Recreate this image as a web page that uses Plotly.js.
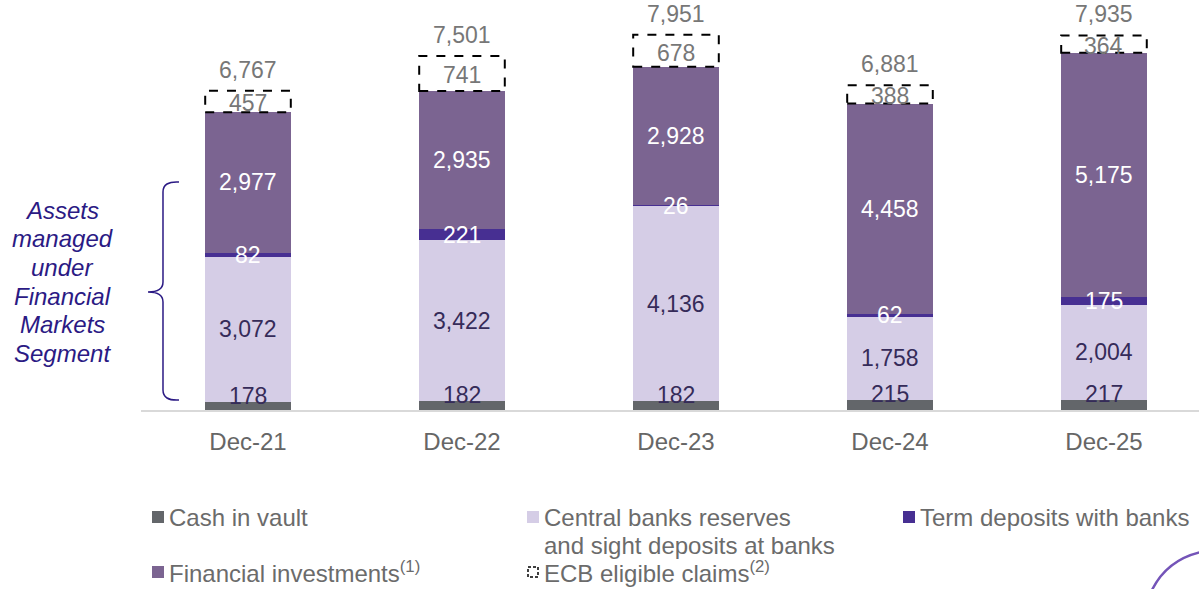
<!DOCTYPE html>
<html>
<head>
<meta charset="utf-8">
<script src="https://cdn.plot.ly/plotly-3.0.1.min.js"></script>
<style>html,body{margin:0;padding:0;background:#fff;}#chart{width:1199px;height:589px;}</style>
</head>
<body>
<div id="chart"></div>
<script>
const categories = ['Dec-21', 'Dec-22', 'Dec-23', 'Dec-24', 'Dec-25'];
const cashInVault = [178, 182, 182, 215, 217];
const centralBanks = [3072, 3422, 4136, 1758, 2004];
const termDeposits = [82, 221, 26, 62, 175];
const financialInvestments = [2977, 2935, 2928, 4458, 5175];
const ecbClaims = [457, 741, 678, 388, 364];
const totals = [6767, 7501, 7951, 6881, 7935];

const seriesNames = ['Cash in vault', 'Central banks reserves and sight deposits at banks', 'Term deposits with banks', 'Financial investments', 'ECB eligible claims'];
const legendLines = [['Cash in vault'], ['Central banks reserves', 'and sight deposits at banks'], ['Term deposits with banks'], ['Financial investments<sup>(1)</sup>'], ['ECB eligible claims<sup>(2)</sup>']];
const segmentLines = ['Assets', 'managed', 'under', 'Financial', 'Markets', 'Segment'];
const seriesColors = ['#63666a', '#d5cde6', '#472f92', '#7b6491', '#ffffff'];
const labelColors = ['#352b59', '#352b59', '#ffffff', '#ffffff', '#777777'];
const seriesValues = [cashInVault, centralBanks, termDeposits, financialInvestments, ecbClaims];

const FONT = 'Arial, "Liberation Sans", sans-serif';
const fmt = v => v.toLocaleString('en-US');

// pixel helpers for decorations outside the plot
const L = 141, W = 1058, H = 410;
const px = p => (p - L) / W;
const py = p => (H - p) / H;

const barWidth = 0.4;
const traces = seriesValues.map((vals, k) => ({
  type: 'bar',
  name: seriesNames[k],
  x: categories,
  y: vals,
  width: barWidth,
  marker: {color: seriesColors[k], line: {width: 0}},
  hoverinfo: 'skip',
  showlegend: false
}));

const annotations = [];
const shapes = [];

categories.forEach((c, i) => {
  let base = 0;
  seriesValues.forEach((vals, k) => {
    const v = vals[i];
    let y = base + v / 2, yshift = 0;
    if (k === 0) { y = base + v; yshift = 6; }
    if (k === 4) { yshift = -2; }
    annotations.push({
      x: c, y: y, xref: 'x', yref: 'y', text: fmt(v), showarrow: false,
      yanchor: 'middle', yshift: yshift,
      font: {family: FONT, size: 23, color: labelColors[k]}
    });
    if (k === 4) {
      shapes.push({
        type: 'rect', xref: 'x', yref: 'y', x0: i - barWidth / 2, x1: i + barWidth / 2,
        y0: base, y1: base + v, line: {color: '#000000', width: 2, dash: 'dash'},
        fillcolor: 'rgba(0,0,0,0)', layer: 'above'
      });
    }
    base += v;
  });
  annotations.push({
    x: c, y: totals[i], xref: 'x', yref: 'y', text: fmt(totals[i]), showarrow: false,
    yanchor: 'middle', yshift: 21,
    font: {family: FONT, size: 23, color: '#777777'}
  });
});

// left annotation + brace
segmentLines.forEach((t, j) => {
  annotations.push({
    xref: 'paper', yref: 'paper', x: px(62), y: py(210 + j * 28.7), xanchor: 'center', yanchor: 'middle',
    text: '<i>' + t + '</i>', showarrow: false,
    font: {family: FONT, size: 24, color: '#2b1a84'}
  });
});
const bp = (x, y) => px(x).toFixed(5) + ',' + py(y).toFixed(5);
shapes.push({
  type: 'path', xref: 'paper', yref: 'paper',
  path: 'M' + bp(179, 182) + ' Q' + bp(163, 181) + ' ' + bp(163, 192) +
        ' L' + bp(163, 282) + ' Q' + bp(163, 292) + ' ' + bp(148, 292) +
        ' Q' + bp(163, 292) + ' ' + bp(163, 302) +
        ' L' + bp(163, 390) + ' Q' + bp(163, 401) + ' ' + bp(179, 400),
  line: {color: '#2b1a84', width: 1.5}
});

// custom legend
const legendPos = [[152, 517], [527, 517], [903, 517], [152, 572], [527, 572]];
legendLines.forEach((lines, k) => {
  const [lx, ly] = legendPos[k];
  if (k === 4) {
    shapes.push({type: 'rect', xref: 'paper', yref: 'paper', x0: px(lx + 1), x1: px(lx + 11), y0: py(ly - 5), y1: py(ly + 5),
      line: {color: '#000', width: 1.5, dash: '3px,2px'}, fillcolor: '#fff'});
  } else {
    shapes.push({type: 'rect', xref: 'paper', yref: 'paper', x0: px(lx), x1: px(lx + 12), y0: py(ly - 6), y1: py(ly + 6),
      line: {width: 0}, fillcolor: seriesColors[k]});
  }
  lines.forEach((t, j) => {
    annotations.push({
      xref: 'paper', yref: 'paper', x: px(lx + 15), y: py(ly + j * 28), xanchor: 'left', yanchor: 'middle',
      text: t, showarrow: false, align: 'left',
      font: {family: FONT, size: 24, color: '#6b6b6b'}
    });
  });
});

// decorative arc bottom right
shapes.push({
  type: 'path', xref: 'paper', yref: 'paper',
  path: 'M' + bp(1151, 592) + ' Q' + bp(1166, 560) + ' ' + bp(1201, 552),
  line: {color: '#7454b8', width: 2.5}
});

const layout = {
  width: 1199, height: 589,
  margin: {l: L, r: 0, t: 0, b: 589 - H, pad: 0},
  barmode: 'stack',
  bargap: 0.6,
  paper_bgcolor: '#ffffff', plot_bgcolor: '#ffffff',
  showlegend: false,
  xaxis: {
    type: 'category', range: [-0.5, 4.444], showline: true, linecolor: '#d9d9d9', linewidth: 2,
    showgrid: false, zeroline: false, ticks: '', ticklabelstandoff: 9,
    tickfont: {family: FONT, size: 24, color: '#666666'}, fixedrange: true
  },
  yaxis: {visible: false, range: [0, 8686], fixedrange: true},
  annotations: annotations,
  shapes: shapes,
  font: {family: FONT}
};

Plotly.newPlot('chart', traces, layout, {displayModeBar: false, staticPlot: true});
</script>
</body>
</html>
